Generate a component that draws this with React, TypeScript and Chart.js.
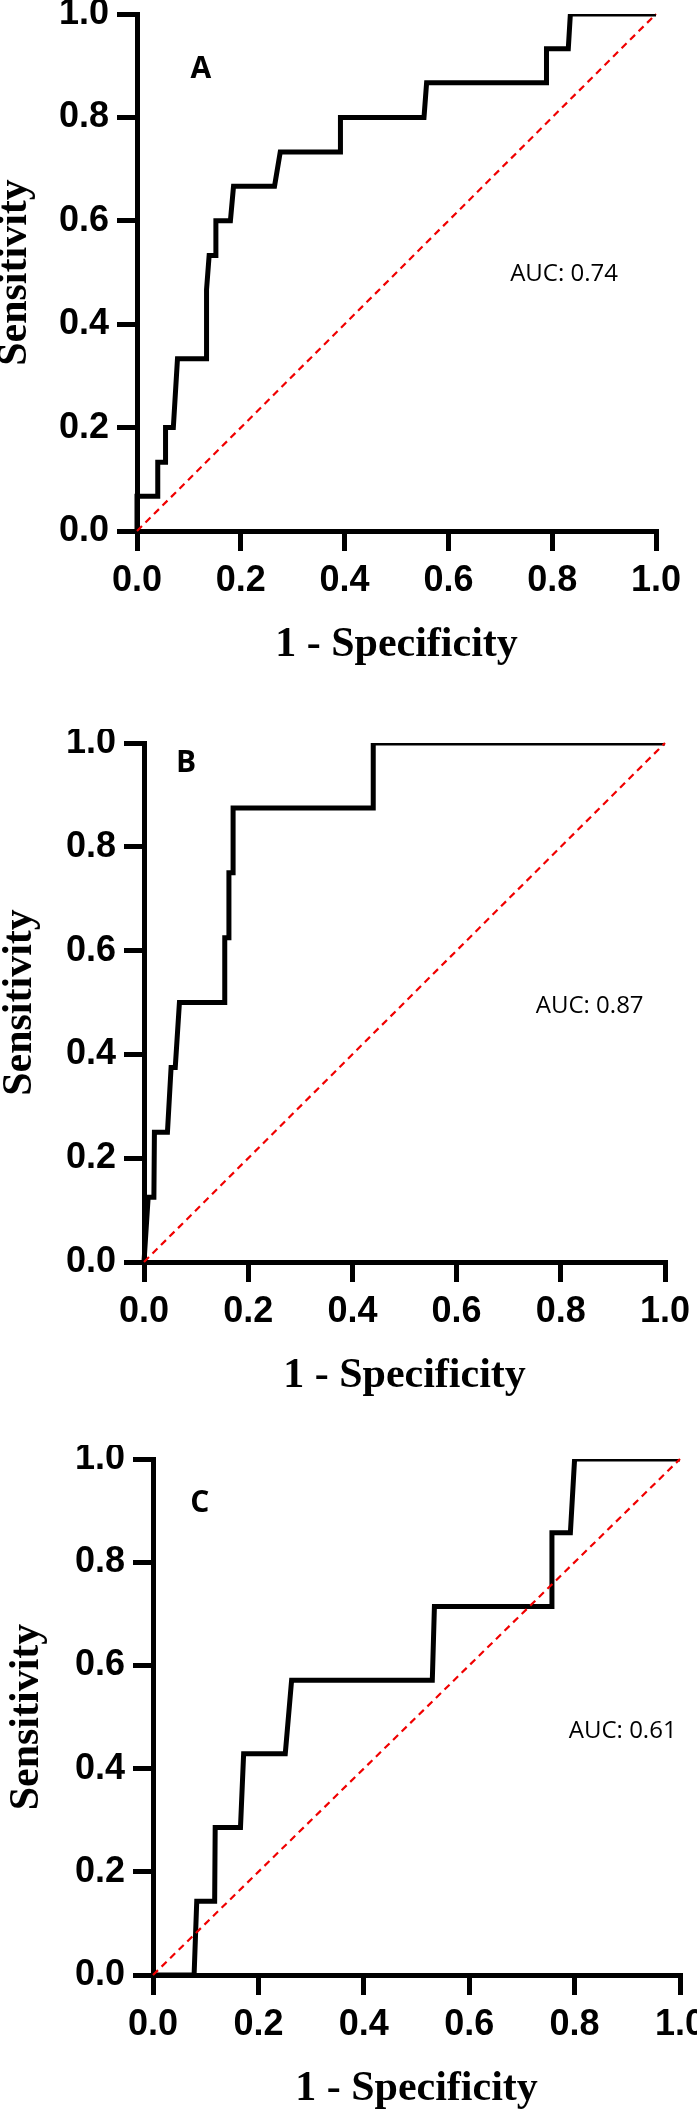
import React, { useEffect, useRef } from "react";
import { Chart, registerables } from "chart.js";

Chart.register(...registerables);

// ---------- data ----------
const tickValues = [0, 0.2, 0.4, 0.6, 0.8, 1.0];
const xTitle = "1 - Specificity";
const yTitle = "Sensitivity";
const refX = [0, 1];
const refY = [0, 1];

const fprA = [0, 0, 0.04, 0.04, 0.055, 0.055, 0.07, 0.078, 0.134, 0.134, 0.139, 0.152, 0.152, 0.18, 0.186, 0.265, 0.276, 0.392, 0.392, 0.553, 0.558, 0.789, 0.789, 0.831, 0.835, 1];
const tprA = [0, 0.067, 0.067, 0.133, 0.133, 0.2, 0.2, 0.333, 0.333, 0.467, 0.533, 0.533, 0.6, 0.6, 0.667, 0.667, 0.733, 0.733, 0.8, 0.8, 0.867, 0.867, 0.933, 0.933, 1, 1];

const fprB = [0, 0.008, 0.019, 0.02, 0.045, 0.052, 0.06, 0.068, 0.155, 0.155, 0.163, 0.163, 0.171, 0.171, 0.44, 0.44, 1];
const tprB = [0, 0.125, 0.125, 0.25, 0.25, 0.375, 0.375, 0.5, 0.5, 0.625, 0.625, 0.75, 0.75, 0.875, 0.875, 1, 1];

const fprC = [0, 0.078, 0.083, 0.117, 0.118, 0.166, 0.172, 0.251, 0.263, 0.53, 0.534, 0.757, 0.757, 0.792, 0.8, 1];
const tprC = [0, 0, 0.143, 0.143, 0.286, 0.286, 0.429, 0.429, 0.571, 0.571, 0.714, 0.714, 0.857, 0.857, 1, 1];

const panelLetters = ["A", "B", "C"];
const aucTexts = ["AUC: 0.74", "AUC: 0.87", "AUC: 0.61"];

// ---------- layout (positions / sizes) ----------
type PanelLayout = {
  top: number;
  height: number;
  areaLeft: number;
  padRight: number;
  padTop: number;
  yTitlePad: number;
  letterPos: [number, number];
  aucPos: [number, number];
};

const layouts: PanelLayout[] = [
  { top: 0, height: 670, areaLeft: 137, padRight: 41, padTop: 14, yTitlePad: 0, letterPos: [0.123, 0.892], aucPos: [0.719, 0.497] },
  { top: 729, height: 672, areaLeft: 144, padRight: 32, padTop: 14, yTitlePad: 5, letterPos: [0.081, 0.96], aucPos: [0.752, 0.493] },
  { top: 1445, height: 669, areaLeft: 153, padRight: 17, padTop: 14, yTitlePad: 12, letterPos: [0.089, 0.913], aucPos: [0.789, 0.473] },
];

const X_SCALE_HEIGHT = 139;

function Panel(props: { fpr: number[]; tpr: number[]; idx: number }) {
  const ref = useRef<HTMLCanvasElement | null>(null);
  const { fpr, tpr, idx } = props;
  const L = layouts[idx];

  useEffect(() => {
    const canvas = ref.current;
    if (!canvas) return;

    const annotate = {
      id: "annot" + idx,
      afterDraw(chart: any) {
        const ctx = chart.ctx;
        const xs = chart.scales.x;
        const ys = chart.scales.y;
        ctx.save();
        ctx.fillStyle = "#000";
        ctx.textBaseline = "middle";
        ctx.font = 'bold 30px "Open Sans"';
        ctx.textAlign = "center";
        ctx.fillText(panelLetters[idx], xs.getPixelForValue(L.letterPos[0]), ys.getPixelForValue(L.letterPos[1]));
        ctx.font = '24px "Open Sans"';
        ctx.textAlign = "left";
        ctx.fillText(aucTexts[idx], xs.getPixelForValue(L.aucPos[0]), ys.getPixelForValue(L.aucPos[1]));
        ctx.restore();
      },
    };

    const tickFont = { family: "Liberation Sans", weight: "bold" as const, size: 36 };
    const gridOpts = {
      display: true,
      drawOnChartArea: false,
      drawTicks: true,
      tickLength: 20,
      tickWidth: 5,
      tickColor: "#000",
      lineWidth: 5,
      color: "#000",
    };

    const chart = new Chart(canvas, {
      type: "line",
      data: {
        datasets: [
          {
            data: refX.map((x, i) => ({ x, y: refY[i] })),
            borderColor: "#f00000",
            borderWidth: 2.2,
            borderDash: [7, 5],
            pointRadius: 0,
            tension: 0,
            fill: false,
            clip: false as any,
            order: 0,
          },
          {
            data: fpr.map((x, i) => ({ x, y: tpr[i] })),
            borderColor: "#000",
            borderWidth: 5,
            pointRadius: 0,
            tension: 0,
            fill: false,
            borderJoinStyle: "miter",
            borderCapStyle: "butt",
            clip: { left: 6, top: 0, right: 0, bottom: 6 } as any,
            order: 1,
          },
        ],
      },
      options: {
        animation: false,
        responsive: false,
        events: [],
        layout: { padding: { top: L.padTop, right: L.padRight, left: 0, bottom: 0 } },
        plugins: { legend: { display: false }, tooltip: { enabled: false } },
        scales: {
          x: {
            type: "linear",
            min: 0,
            max: 1,
            afterBuildTicks: (s: any) => {
              s.ticks = tickValues.map((v) => ({ value: v }));
            },
            ticks: {
              callback: (v: any) => Number(v).toFixed(1),
              font: tickFont,
              color: "#000",
              padding: 8,
              maxRotation: 0,
              autoSkip: false,
            },
            grid: gridOpts,
            border: { display: true, width: 5, color: "#000" },
            title: {
              display: true,
              text: xTitle,
              color: "#000",
              font: { family: "Liberation Serif", weight: "bold", size: 42, lineHeight: 1.2 },
              padding: { top: 0, bottom: 0 },
            },
            afterFit: (s: any) => {
              s.height = X_SCALE_HEIGHT;
              s.paddingLeft = 0;
              s.paddingRight = 0;
            },
          },
          y: {
            type: "linear",
            min: 0,
            max: 1,
            afterBuildTicks: (s: any) => {
              s.ticks = tickValues.map((v) => ({ value: v }));
            },
            ticks: {
              callback: (v: any) => Number(v).toFixed(1),
              font: tickFont,
              color: "#000",
              padding: 8,
              autoSkip: false,
            },
            grid: gridOpts,
            border: { display: true, width: 5, color: "#000" },
            title: {
              display: true,
              text: yTitle,
              color: "#000",
              font: { family: "Liberation Serif", weight: "bold", size: 42, lineHeight: 0.7 },
              padding: { top: L.yTitlePad, bottom: 0 },
            },
            afterFit: (s: any) => {
              s.width = L.areaLeft;
              s.paddingTop = 0;
              s.paddingBottom = 0;
            },
          },
        },
      } as any,
      plugins: [annotate],
    });

    return () => chart.destroy();
  }, [fpr, tpr, idx]);

  return (
    <canvas
      ref={ref}
      width={697}
      height={L.height}
      style={{ position: "absolute", left: 0, top: L.top, width: 697, height: L.height }}
    />
  );
}

export default function App() {
  return (
    <div
      style={{
        position: "absolute",
        left: 0,
        top: 0,
        width: 697,
        height: 2114,
        background: "#fff",
        overflow: "hidden",
      }}
    >
      <Panel fpr={fprA} tpr={tprA} idx={0} />
      <Panel fpr={fprB} tpr={tprB} idx={1} />
      <Panel fpr={fprC} tpr={tprC} idx={2} />
    </div>
  );
}
